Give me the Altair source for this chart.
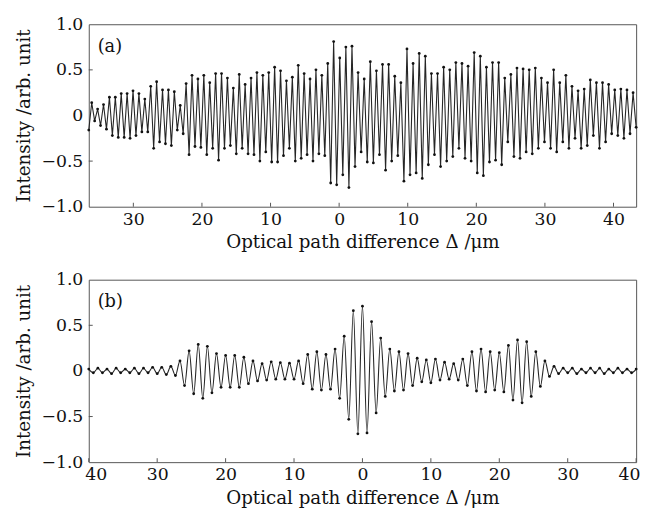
import altair as alt
import numpy as np
import pandas as pd

# ---------------- data ----------------
# Panel (a): successive extrema (trough, peak, trough, ...) of the sampled interferogram
A_VALUES = [
    -0.16, 0.14, -0.06, 0.07, -0.11, 0.12, -0.15, 0.20, -0.22, 0.20,
    -0.24, 0.24, -0.24, 0.24, -0.25, 0.27, -0.22, 0.24, -0.18, 0.18,
    -0.18, 0.32, -0.36, 0.37, -0.29, 0.28, -0.31, 0.28, -0.33, 0.26,
    -0.16, 0.11, -0.20, 0.35, -0.43, 0.44, -0.34, 0.40, -0.35, 0.44,
    -0.43, 0.36, -0.36, 0.46, -0.49, 0.46, -0.36, 0.41, -0.33, 0.30,
    -0.42, 0.45, -0.36, 0.34, -0.42, 0.41, -0.43, 0.47, -0.50, 0.44,
    -0.40, 0.47, -0.51, 0.53, -0.51, 0.49, -0.44, 0.38, -0.36, 0.42,
    -0.50, 0.55, -0.47, 0.46, -0.43, 0.40, -0.50, 0.50, -0.42, 0.44,
    -0.44, 0.57, -0.74, 0.81, -0.76, 0.63, -0.65, 0.75, -0.79, 0.76,
    -0.56, 0.47, -0.40, 0.40, -0.51, 0.59, -0.52, 0.49, -0.43, 0.56,
    -0.60, 0.56, -0.50, 0.43, -0.44, 0.36, -0.72, 0.73, -0.65, 0.57,
    -0.63, 0.68, -0.69, 0.65, -0.54, 0.46, -0.43, 0.46, -0.56, 0.53,
    -0.50, 0.50, -0.45, 0.58, -0.36, 0.57, -0.47, 0.54, -0.50, 0.69,
    -0.63, 0.65, -0.66, 0.53, -0.51, 0.58, -0.49, 0.58, -0.54, 0.41,
    -0.29, 0.45, -0.45, 0.52, -0.47, 0.51, -0.40, 0.50, -0.42, 0.52,
    -0.36, 0.41, -0.29, 0.36, -0.36, 0.50, -0.40, 0.36, -0.29, 0.44,
    -0.36, 0.32, -0.25, 0.27, -0.36, 0.29, -0.33, 0.39, -0.22, 0.36,
    -0.36, 0.36, -0.29, 0.34, -0.20, 0.28, -0.22, 0.29, -0.25, 0.28,
    -0.20, 0.25, -0.13,
]
# positions (µm) of first, central-peak and last extremum of panel (a)
A_ANCHOR_INDEX = [0, 83, 182]
A_ANCHOR_UM = [-36.5, -0.8, 43.3]

# Panel (b): successive extrema (peak, trough, ...) from -40 µm to 40 µm
B_VALUES = [
    0.02, -0.02, 0.03, -0.02, 0.02, -0.03, 0.03, -0.02, 0.02, -0.02,
    0.03, -0.03, 0.03, -0.02, 0.04, -0.03, 0.04, -0.04, 0.05, -0.05,
    0.11, -0.16, 0.22, -0.25, 0.29, -0.30, 0.27, -0.24, 0.19, -0.18,
    0.17, -0.18, 0.17, -0.18, 0.15, -0.14, 0.11, -0.11, 0.08, -0.10,
    0.10, -0.09, 0.09, -0.09, 0.085, -0.09, 0.11, -0.14, 0.18, -0.20,
    0.21, -0.21, 0.18, -0.20, 0.24, -0.30, 0.38, -0.53, 0.66, -0.69,
    0.71, -0.68, 0.54, -0.46, 0.36, -0.28, 0.24, -0.22, 0.21, -0.21,
    0.19, -0.16, 0.14, -0.12, 0.12, -0.13, 0.13, -0.10, 0.095, -0.09,
    0.08, -0.10, 0.13, -0.16, 0.21, -0.22, 0.24, -0.23, 0.21, -0.21,
    0.20, -0.23, 0.28, -0.32, 0.34, -0.35, 0.32, -0.28, 0.21, -0.17,
    0.11, -0.06, 0.05, -0.03, 0.03, -0.02, 0.03, -0.03, 0.02, -0.02,
    0.03, -0.02, 0.03, -0.03, 0.02, -0.02, 0.03, -0.02, 0.02, -0.02,
    0.02,
]
B_START_UM = -40.0
B_END_UM = 40.0

X_TICKS_A = [-30, -20, -10, 0, 10, 20, 30, 40]
X_TICKS_B = [-40, -30, -20, -10, 0, 10, 20, 30, 40]
Y_TICKS = [-1.0, -0.5, 0.0, 0.5, 1.0]
X_DOMAIN_A = [-36.5, 43.3]
X_DOMAIN_B = [-40, 40]

X_TITLE = "Optical path difference Δ /μm"
Y_TITLE = "Intensity /arb. unit"

# ---------------- tables ----------------
a_idx = np.arange(len(A_VALUES))
df_a = pd.DataFrame({"x": np.interp(a_idx, A_ANCHOR_INDEX, A_ANCHOR_UM), "y": A_VALUES})
df_b = pd.DataFrame({"x": np.linspace(B_START_UM, B_END_UM, len(B_VALUES)), "y": B_VALUES})

W, H = 555, 185
FONT = "DejaVu Serif"


def panel(df, domain, xticks, label, interp, flush):
    axis_kw = dict(values=xticks, labelExpr="abs(datum.value)", title=X_TITLE,
                   ticks=False, tickSize=0, domain=False, grid=False,
                   labelPadding=4, titlePadding=5)
    if flush:
        axis_kw.update(labelFlush=True, labelFlushOffset=4)
    else:
        axis_kw.update(labelFlush=False)
    xenc = alt.X(
        "x:Q",
        scale=alt.Scale(domain=domain, nice=False, zero=False),
        axis=alt.Axis(**axis_kw),
    )
    yenc = alt.Y(
        "y:Q",
        scale=alt.Scale(domain=[-1, 1], nice=False, zero=False),
        axis=alt.Axis(values=Y_TICKS,
                      labelExpr="datum.value == 0 ? '0' : format(datum.value, '.1f')",
                      title=Y_TITLE, ticks=False, tickSize=0, domain=False, grid=False,
                      labelPadding=6, titlePadding=8),
    )
    line = alt.Chart(df).mark_line(color="#262626", strokeWidth=1.1, interpolate=interp).encode(x=xenc, y=yenc)
    pts = alt.Chart(df).mark_point(filled=True, size=8, color="#111", opacity=1, strokeWidth=0).encode(
        x="x:Q", y="y:Q")
    xt = alt.Chart(pd.DataFrame({"x": xticks})).mark_rule(color="#555", strokeWidth=1).encode(
        x="x:Q", y=alt.value(H), y2=alt.value(H - 4))
    yt = alt.Chart(pd.DataFrame({"y": [-0.5, 0.5]})).mark_rule(color="#555", strokeWidth=1).encode(
        y="y:Q", x=alt.value(0), x2=alt.value(4))
    txt = alt.Chart(pd.DataFrame({"t": [label]})).mark_text(
        font=FONT, fontSize=18, align="left", baseline="middle", color="#111").encode(
        text="t:N", x=alt.value(9), y=alt.value(23))
    return alt.layer(line, pts, xt, yt, txt).properties(width=W, height=H)


pa = panel(df_a, X_DOMAIN_A, X_TICKS_A, "(a)", "linear", False)
pb = panel(df_b, X_DOMAIN_B, X_TICKS_B, "(b)", "monotone", True)

chart = (
    alt.vconcat(pa, pb, spacing=18)
    .properties(padding={"left": 14, "top": 11, "right": 5, "bottom": 5})
    .configure_view(stroke="#555", strokeWidth=1)
    .configure_axis(labelFont=FONT, titleFont=FONT, labelFontSize=17.5, titleFontSize=18.5,
                    labelColor="#111", titleColor="#111", titleFontWeight="normal")
)

chart.save("out.html", embed_options={"renderer": "svg", "actions": False})
